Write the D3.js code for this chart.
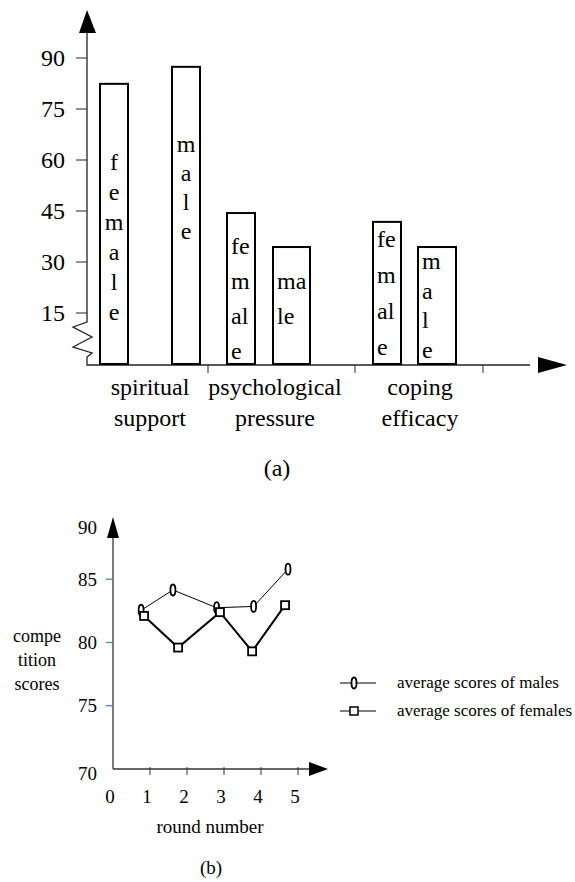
<!DOCTYPE html>
<meta charset="utf-8">
<head>
<title>Scores by gender</title>
<style>
body { margin: 0; background: #fff; }
svg text { font-family: "Liberation Serif", "Times New Roman", serif; fill: #000; }
</style>
</head>
<body>
<script src="https://d3js.org/d3.v7.min.js"></script>
<script>

// ---- data (a) ----
var categories = ["spiritual support", "psychological pressure", "coping efficacy"];
var categoryLines = [["spiritual", "support"], ["psychological", "pressure"], ["coping", "efficacy"]];
var femaleScores = [82.4, 44.4, 41.8];
var maleScores = [87.4, 34.4, 34.4];
var femaleLetters = [["f","e","m","a","l","e"], ["fe","m","al","e"], ["fe","m","al","e"]];
var maleLetters = [["m","a","l","e"], ["ma","le"], ["m","a","l","e"]];
var yTicksA = [15, 30, 45, 60, 75, 90];

// ---- data (b) ----
var roundTicks = [0, 1, 2, 3, 4, 5];
var yTicksB = [70, 75, 80, 85, 90];
var maleRound = [0.76, 1.62, 2.8, 3.8, 4.73];
var maleAvg = [82.55, 84.15, 82.75, 82.85, 85.8];
var femaleRound = [0.84, 1.76, 2.89, 3.76, 4.65];
var femaleAvg = [82.1, 79.6, 82.4, 79.3, 82.95];
var legendLabels = ["average scores of males", "average scores of females"];

var svg = d3.select("body").append("svg")
    .attr("width", 575)
    .attr("height", 882);

// =================== chart (a) ===================
var bars = [];
categories.forEach(function(c, i) {
  bars.push({key: c + "|f", cat: i, value: femaleScores[i], letters: femaleLetters[i]});
  bars.push({key: c + "|m", cat: i, value: maleScores[i], letters: maleLetters[i]});
});

var yA = d3.scaleLinear().domain([0, 90]).range([364, 58]);
// hand placed columns like in the figure
var barLeft = d3.scaleOrdinal().domain(bars.map(d => d.key)).range([100, 172, 227, 273, 373, 418]);
var barWidth = d3.scaleOrdinal().domain(bars.map(d => d.key)).range([28, 28, 28, 37, 28, 38]);
var textTop = d3.scaleOrdinal().domain(bars.map(d => d.key)).range([163, 145, 247, 282, 240, 262]);
var textStep = d3.scaleOrdinal().domain(bars.map(d => d.key)).range([30, 29, 35, 35, 36, 29.5]);
var catCenter = d3.scaleOrdinal().domain(categories).range([150, 275, 420]);
var boundary = [208, 355, 483];

var gA = svg.append("g");

// axes
gA.append("path")
  .attr("d", "M87,33 L87,322 L73,327 L92,337 L73,347 L92,353 L87,357 L87,365 L530,365")
  .attr("fill", "none").attr("stroke", "#222").attr("stroke-width", 1.3);
gA.append("path").attr("d", "M87,10 L79,33 L96,33 Z").attr("fill", "#000");
gA.append("path").attr("d", "M567,365 L538,357 L538,373 Z").attr("fill", "#000");

gA.selectAll(".ytick").data(yTicksA).enter().append("line")
  .attr("x1", 76).attr("x2", 87)
  .attr("y1", d => yA(d)).attr("y2", d => yA(d))
  .attr("stroke", "#222").attr("stroke-width", 1);
gA.selectAll(".ylab").data(yTicksA).enter().append("text")
  .attr("x", 65).attr("y", d => yA(d)).attr("dy", "0.35em")
  .attr("text-anchor", "end").attr("font-size", 24)
  .text(d => d);

gA.selectAll(".xtick").data(boundary).enter().append("line")
  .attr("x1", d => d).attr("x2", d => d)
  .attr("y1", 365).attr("y2", 373)
  .attr("stroke", "#222");

// bars
gA.selectAll(".bar").data(bars).enter().append("rect")
  .attr("x", d => barLeft(d.key))
  .attr("y", d => yA(d.value))
  .attr("width", d => barWidth(d.key))
  .attr("height", d => yA(0) - yA(d.value))
  .attr("fill", "#fff").attr("stroke", "#000").attr("stroke-width", 2);

bars.forEach(function(b, i) {
  var centred = b.cat === 0;
  gA.selectAll(".lt" + i).data(b.letters).enter().append("text")
    .attr("x", centred ? barLeft(b.key) + barWidth(b.key) / 2 : barLeft(b.key) + 4)
    .attr("y", (d, j) => textTop(b.key) + j * textStep(b.key) + 7)
    .attr("text-anchor", centred ? "middle" : "start")
    .attr("font-size", 24)
    .text(d => d);
});

// category labels
categories.forEach(function(c, i) {
  gA.selectAll(".cl" + i).data(categoryLines[i]).enter().append("text")
    .attr("x", catCenter(c))
    .attr("y", (d, j) => 395 + j * 31)
    .attr("text-anchor", "middle").attr("font-size", 24)
    .text(d => d);
});

gA.append("text").attr("x", 277).attr("y", 476)
  .attr("text-anchor", "middle").attr("font-size", 24).text("(a)");

// =================== chart (b) ===================
var xB = d3.scaleLinear().domain([0, 5]).range([113, 298]);
var yB = d3.scaleLinear().domain([70, 90]).range([769, 516]);
var gB = svg.append("g");

gB.append("line").attr("x1", xB(0)).attr("x2", xB(0)).attr("y1", 534).attr("y2", yB(70))
  .attr("stroke", "#333").attr("stroke-width", 1.3);
gB.append("line").attr("x1", xB(0)).attr("x2", 312).attr("y1", yB(70)).attr("y2", yB(70))
  .attr("stroke", "#333").attr("stroke-width", 1.3);
gB.append("path").attr("d", "M113,517 L107,538 L119,538 Z").attr("fill", "#000");
gB.append("path").attr("d", "M328," + yB(70) + " L309," + (yB(70) - 7) + " L309," + (yB(70) + 7) + " Z").attr("fill", "#000");

gB.selectAll(".ytb").data(yTicksB.filter(d => d > 70 && d < 90)).enter().append("line")
  .attr("x1", 106).attr("x2", 113)
  .attr("y1", d => yB(d)).attr("y2", d => yB(d))
  .attr("stroke", "#4f81bd").attr("stroke-width", 1.3);
gB.selectAll(".ylb").data(yTicksB).enter().append("text")
  .attr("x", 97).attr("y", d => yB(d) + (d === 90 ? 11 : d === 70 ? 4 : 0)).attr("dy", "0.35em")
  .attr("text-anchor", "end").attr("font-size", 19)
  .text(d => d);

gB.selectAll(".xtb").data(roundTicks.slice(1)).enter().append("line")
  .attr("x1", d => xB(d)).attr("x2", d => xB(d))
  .attr("y1", yB(70) - 2).attr("y2", yB(70) + 6)
  .attr("stroke", "#333");
gB.selectAll(".xlb").data(roundTicks).enter().append("text")
  .attr("x", d => xB(d) - 3).attr("y", 803)
  .attr("text-anchor", "middle").attr("font-size", 19)
  .text(d => d);

gB.append("text").attr("x", 210).attr("y", 833)
  .attr("text-anchor", "middle").attr("font-size", 19).text("round number");
gB.append("text").attr("x", 211).attr("y", 874)
  .attr("text-anchor", "middle").attr("font-size", 19).text("(b)");

gB.selectAll(".yt").data(["compe", "tition", "scores"]).enter().append("text")
  .attr("x", 37).attr("y", (d, i) => 642 + i * 24)
  .attr("text-anchor", "middle").attr("font-size", 18)
  .text(d => d);

// lines
var males = maleRound.map((r, i) => ({r: r, v: maleAvg[i]}));
var females = femaleRound.map((r, i) => ({r: r, v: femaleAvg[i]}));
var line = d3.line().x(d => xB(d.r)).y(d => yB(d.v));

gB.append("path").attr("d", line(males))
  .attr("fill", "none").attr("stroke", "#000").attr("stroke-width", 1);
gB.append("path").attr("d", line(females))
  .attr("fill", "none").attr("stroke", "#000").attr("stroke-width", 2);

gB.selectAll(".me").data(males).enter().append("ellipse")
  .attr("cx", d => xB(d.r)).attr("cy", d => yB(d.v))
  .attr("rx", 2.5).attr("ry", 5.5)
  .attr("fill", "#fff").attr("stroke", "#000").attr("stroke-width", 1.8);
gB.selectAll(".fs").data(females).enter().append("rect")
  .attr("x", d => xB(d.r) - 4).attr("y", d => yB(d.v) - 4)
  .attr("width", 8).attr("height", 8)
  .attr("fill", "#fff").attr("stroke", "#000").attr("stroke-width", 1.8);

// legend
var leg = gB.selectAll(".leg").data(legendLabels).enter().append("g")
  .attr("transform", (d, i) => "translate(0," + (683 + i * 28) + ")");
leg.append("line").attr("x1", 340).attr("x2", 376).attr("y1", 0).attr("y2", 0)
  .attr("stroke", "#000").attr("stroke-width", 1);
leg.filter((d, i) => i === 0).append("ellipse")
  .attr("cx", 354).attr("cy", 0).attr("rx", 2.5).attr("ry", 5.5)
  .attr("fill", "#fff").attr("stroke", "#000").attr("stroke-width", 1.8);
leg.filter((d, i) => i === 1).append("rect")
  .attr("x", 350).attr("y", -4).attr("width", 8).attr("height", 8)
  .attr("fill", "#fff").attr("stroke", "#000").attr("stroke-width", 1.5);
leg.append("text").attr("x", 397).attr("y", 5)
  .attr("font-size", 17).text(d => d);

</script>
</body>
